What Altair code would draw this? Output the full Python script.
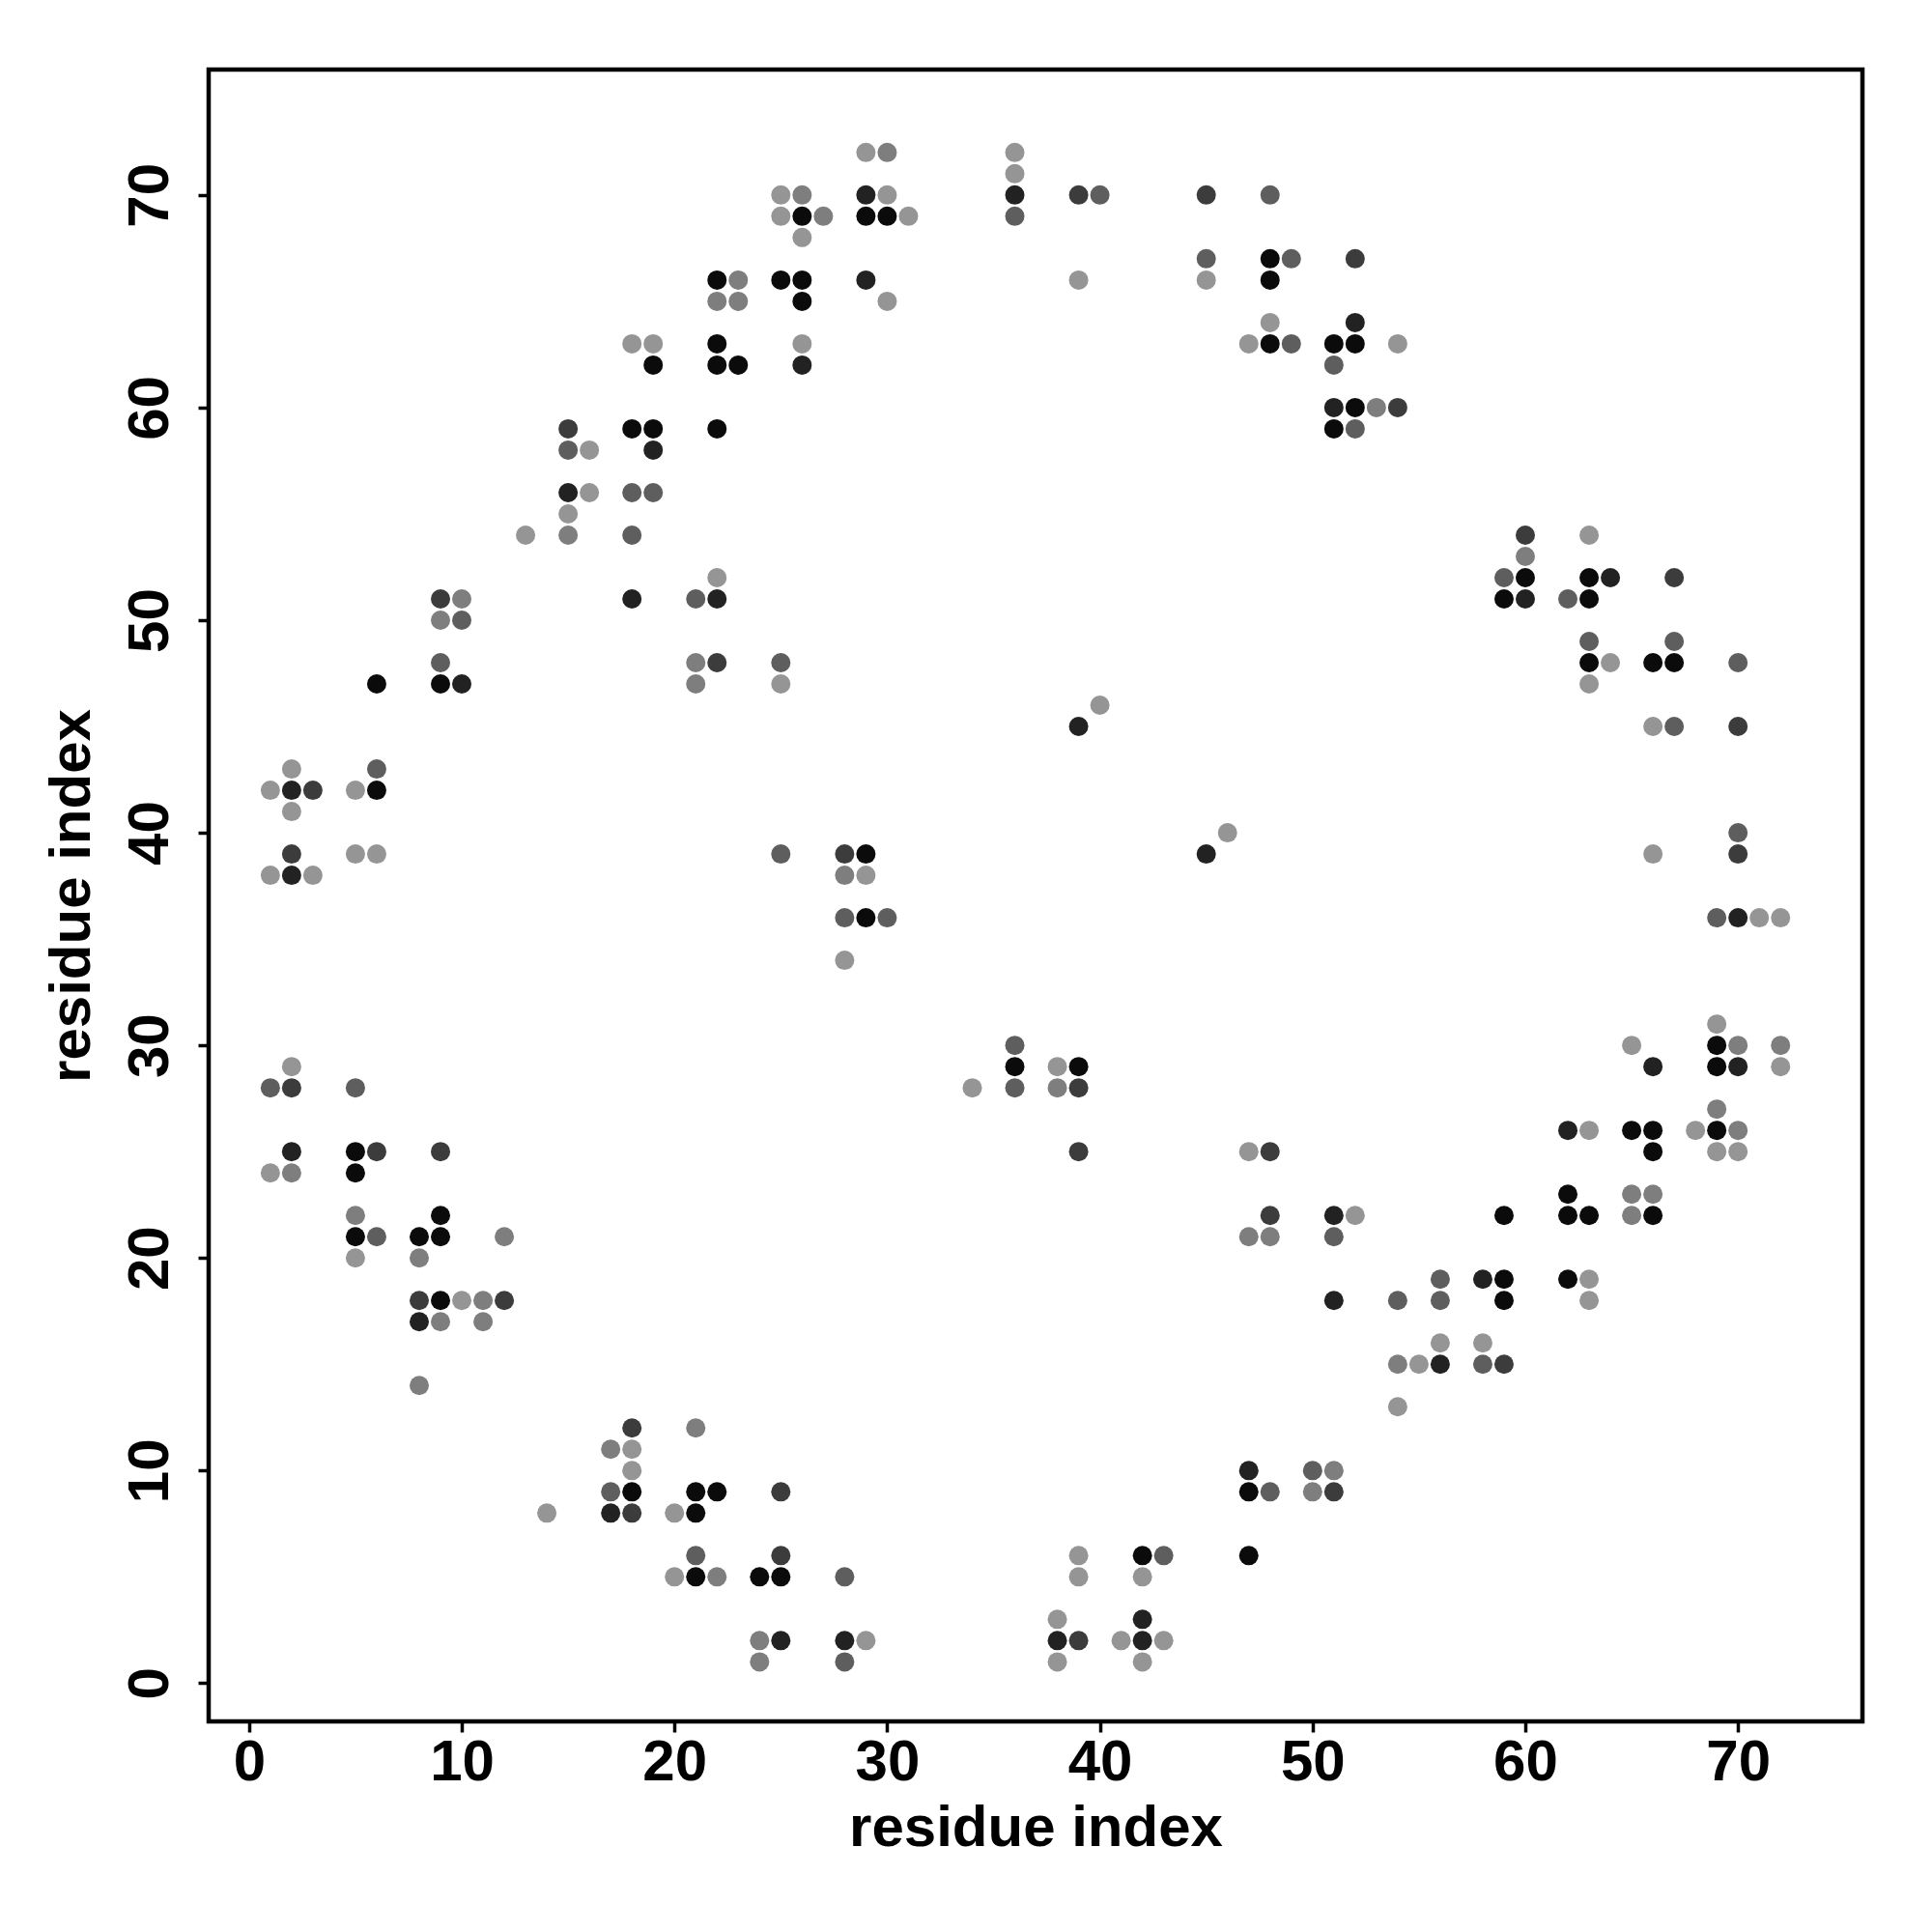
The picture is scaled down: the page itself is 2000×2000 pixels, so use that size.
import altair as alt
import pandas as pd

# residue index pairs (x, y) and grey level of each contact
x_idx = [
    1, 1, 1, 1,
    2, 2, 2, 2, 2, 2, 2, 2, 2,
    3, 3,
    5, 5, 5, 5, 5, 5, 5, 5,
    6, 6, 6, 6, 6, 6,
    8, 8, 8, 8, 8,
    9, 9, 9, 9, 9, 9, 9, 9, 9,
    10, 10, 10, 10,
    11, 11,
    12, 12,
    13, 14,
    15, 15, 15, 15, 15,
    16, 16,
    17, 17, 17,
    18, 18, 18, 18, 18, 18, 18, 18, 18, 18,
    19, 19, 19, 19, 19,
    20, 20,
    21, 21, 21, 21, 21, 21, 21, 21,
    22, 22, 22, 22, 22, 22, 22, 22, 22, 22,
    23, 23, 23,
    24, 24, 24,
    25, 25, 25, 25, 25, 25, 25, 25, 25, 25,
    26, 26, 26, 26, 26, 26, 26,
    27,
    28, 28, 28, 28, 28, 28, 28,
    29, 29, 29, 29, 29, 29, 29, 29,
    30, 30, 30, 30, 30,
    31, 34,
    36, 36, 36, 36, 36, 36, 36,
    38, 38, 38, 38, 38,
    39, 39, 39, 39, 39, 39, 39, 39, 39,
    40, 40,
    41,
    42, 42, 42, 42, 42,
    43, 43,
    45, 45, 45, 45,
    46,
    47, 47, 47, 47, 47, 47,
    48, 48, 48, 48, 48, 48, 48, 48, 48,
    49, 49,
    50, 50,
    51, 51, 51, 51, 51, 51, 51, 51, 51,
    52, 52, 52, 52, 52, 52,
    53,
    54, 54, 54, 54, 54,
    55,
    56, 56, 56, 56,
    58, 58, 58,
    59, 59, 59, 59, 59, 59,
    60, 60, 60, 60,
    62, 62, 62, 62, 62,
    63, 63, 63, 63, 63, 63, 63, 63, 63, 63,
    64, 64,
    65, 65, 65, 65,
    66, 66, 66, 66, 66, 66, 66, 66,
    67, 67, 67, 67,
    68,
    69, 69, 69, 69, 69, 69, 69,
    70, 70, 70, 70, 70, 70, 70, 70, 70,
    71,
    72, 72, 72,
]
y_idx = [
    42, 38, 28, 24,
    43, 42, 41, 39, 38, 29, 28, 25, 24,
    42, 38,
    42, 39, 28, 25, 24, 22, 21, 20,
    47, 43, 42, 39, 25, 21,
    21, 20, 18, 17, 14,
    51, 50, 48, 47, 25, 22, 21, 18, 17,
    51, 50, 47, 18,
    18, 17,
    21, 18,
    54, 8,
    59, 58, 56, 55, 54,
    58, 56,
    11, 9, 8,
    63, 59, 56, 54, 51, 12, 11, 10, 9, 8,
    63, 62, 59, 58, 56,
    8, 5,
    51, 48, 47, 12, 9, 8, 6, 5,
    66, 65, 63, 62, 59, 52, 51, 48, 9, 5,
    66, 65, 62,
    5, 2, 1,
    70, 69, 66, 48, 47, 39, 9, 6, 5, 2,
    70, 69, 68, 66, 65, 63, 62,
    69,
    39, 38, 36, 34, 5, 2, 1,
    72, 70, 69, 66, 39, 38, 36, 2,
    72, 70, 69, 65, 36,
    69, 28,
    72, 71, 70, 69, 30, 29, 28,
    29, 28, 3, 2, 1,
    70, 66, 45, 29, 28, 25, 6, 5, 2,
    70, 46,
    2,
    6, 5, 3, 2, 1,
    6, 2,
    70, 67, 66, 39,
    40,
    63, 25, 21, 10, 9, 6,
    70, 67, 66, 64, 63, 25, 22, 21, 9,
    67, 63,
    10, 9,
    63, 62, 60, 59, 22, 21, 18, 10, 9,
    67, 64, 63, 60, 59, 22,
    60,
    63, 60, 18, 15, 13,
    15,
    19, 18, 16, 15,
    19, 16, 15,
    52, 51, 22, 19, 18, 15,
    54, 53, 52, 51,
    51, 26, 23, 22, 19,
    54, 52, 51, 49, 48, 47, 26, 22, 19, 18,
    52, 48,
    30, 26, 23, 22,
    48, 45, 39, 29, 26, 25, 23, 22,
    52, 49, 48, 45,
    26,
    36, 31, 30, 29, 27, 26, 25,
    48, 45, 40, 39, 36, 30, 29, 26, 25,
    36,
    36, 30, 29,
]
shade = [
    "L", "L", "M", "L",
    "L", "D", "L", "E", "D", "L", "E", "D", "G",
    "E", "L",
    "L", "L", "M", "K", "K", "G", "K", "L",
    "K", "M", "K", "L", "E", "M",
    "K", "G", "E", "D", "G",
    "E", "G", "M", "K", "E", "K", "K", "K", "G",
    "G", "M", "D", "L",
    "G", "G",
    "G", "E",
    "L", "L",
    "E", "M", "D", "L", "G",
    "L", "L",
    "G", "M", "D",
    "L", "K", "M", "M", "D", "E", "L", "L", "K", "E",
    "L", "K", "K", "D", "M",
    "L", "L",
    "M", "G", "G", "G", "K", "K", "M", "K",
    "K", "G", "K", "K", "K", "L", "D", "E", "K", "G",
    "G", "G", "K",
    "K", "G", "G",
    "L", "L", "K", "M", "L", "M", "E", "E", "K", "D",
    "G", "K", "L", "K", "K", "L", "D",
    "G",
    "E", "G", "M", "L", "M", "D", "M",
    "L", "D", "K", "D", "K", "L", "K", "L",
    "G", "L", "K", "L", "M",
    "L", "L",
    "L", "L", "D", "M", "M", "K", "M",
    "L", "G", "L", "D", "L",
    "E", "L", "D", "K", "E", "E", "L", "L", "E",
    "M", "L",
    "L",
    "K", "L", "D", "D", "L",
    "M", "L",
    "E", "M", "L", "D",
    "L",
    "L", "L", "G", "D", "K", "K",
    "M", "K", "K", "L", "K", "E", "E", "G", "M",
    "M", "M",
    "M", "G",
    "K", "M", "D", "K", "D", "M", "D", "G", "E",
    "E", "D", "K", "K", "M", "L",
    "G",
    "L", "E", "M", "G", "L",
    "L",
    "M", "M", "L", "D",
    "D", "L", "M",
    "M", "K", "K", "K", "K", "E",
    "E", "G", "K", "D",
    "M", "D", "K", "K", "K",
    "L", "K", "K", "M", "K", "L", "L", "K", "L", "L",
    "D", "L",
    "L", "K", "G", "G",
    "K", "L", "L", "D", "K", "K", "G", "K",
    "E", "M", "K", "M",
    "L",
    "M", "L", "K", "K", "G", "K", "L",
    "M", "E", "M", "E", "D", "G", "D", "G", "L",
    "L",
    "L", "G", "L",
]

grey_levels = {"K": "#0b0b0b", "D": "#222222", "E": "#3c3c3c",
               "M": "#5e5e5e", "G": "#7e7e7e", "L": "#959595"}

df = pd.DataFrame({"x": x_idx, "y": y_idx,
                   "col": [grey_levels[s] for s in shade]})

tick_vals = [0, 10, 20, 30, 40, 50, 60, 70]
FONT = "Liberation Sans"

common_axis = dict(
    values=tick_vals, grid=False, domain=False,
    ticks=True, tickColor="black", tickWidth=3.5, tickSize=11,
    labelFont=FONT, labelFontSize=60, labelFontWeight="bold", labelColor="black",
    titleFont=FONT, titleFontSize=60, titleFontWeight="bold", titleColor="black",
    labelOverlap=False, labelFlush=False,
)

chart = alt.Chart(df).mark_circle(size=400, opacity=1).encode(
    x=alt.X("x:Q",
            scale=alt.Scale(domain=[-1.9, 75.85], nice=False, zero=False),
            axis=alt.Axis(title="residue index", labelPadding=2, titlePadding=9,
                          **common_axis)),
    y=alt.Y("y:Q",
            scale=alt.Scale(domain=[-1.8, 75.9], nice=False, zero=False),
            axis=alt.Axis(title="residue index", labelAngle=270, labelAlign="center",
                          labelBaseline="bottom", labelPadding=19, titlePadding=20,
                          **common_axis)),
    color=alt.Color("col:N", scale=None),
).properties(
    width=1712, height=1710,
    autosize=alt.AutoSizeParams(type="none"),
    padding={"left": 208, "top": 64, "right": 50, "bottom": 200},
    background="white",
).configure_view(stroke="black", strokeWidth=4.5)

chart.save("out.html", embed_options={"renderer": "svg", "actions": False})
